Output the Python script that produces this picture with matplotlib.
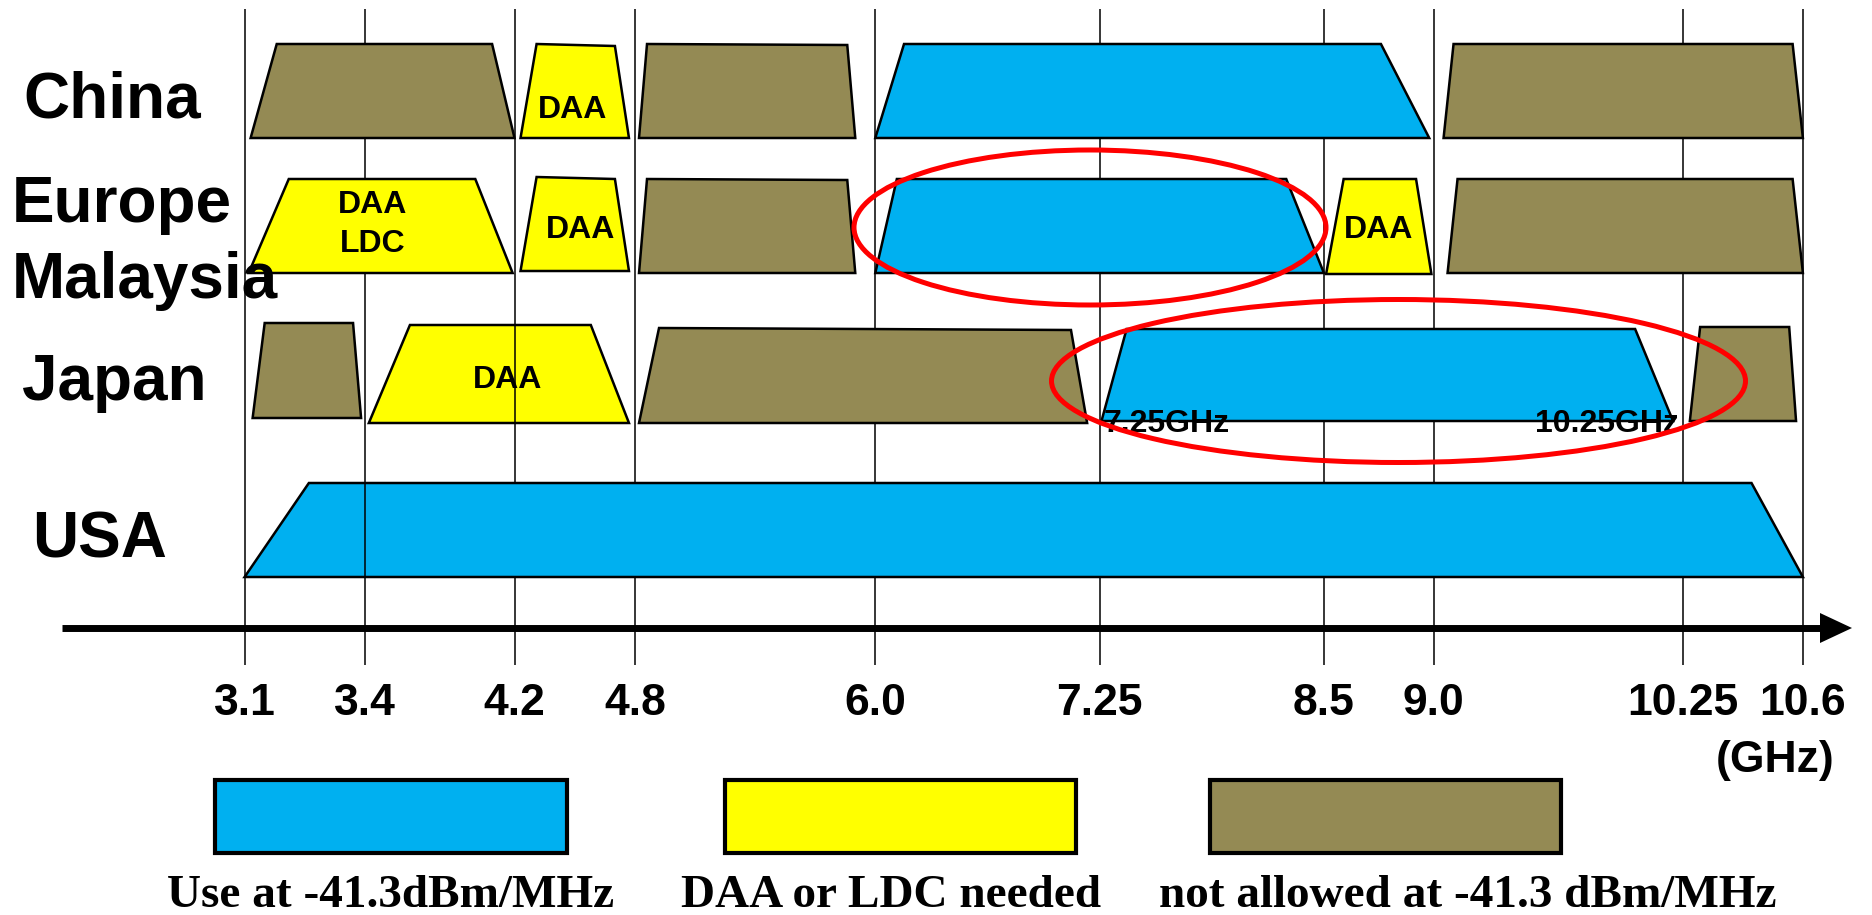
#!/usr/bin/env python3
"""UWB spectrum regulation per region (China / Europe-Malaysia / Japan / USA)."""

import matplotlib
matplotlib.use("Agg")
import matplotlib.pyplot as plt
import matplotlib.transforms as mtransforms
from matplotlib.patches import Polygon, Rectangle, Ellipse
import numpy as np

W, H, DPI = 1872, 915, 100

BLUE = "#00B0F0"
YELLOW = "#FFFF00"
BROWN = "#948A54"
RED = "#FF0000"

# frequency ticks (GHz) and their position on the (non linear) drawing axis
TICKS_GHZ = [3.1, 3.4, 4.2, 4.8, 6.0, 7.25, 8.5, 9.0, 10.25, 10.6]
TICK_LABELS = ["3.1", "3.4", "4.2", "4.8", "6.0", "7.25", "8.5", "9.0", "10.25", "10.6"]
TICK_POS = [244.6, 365.1, 514.5, 635.0, 875.3, 1099.7, 1323.9, 1433.6, 1683.0, 1802.9]

# each band: (bottom-left, top-left, top-right, bottom-right) in GHz, kind,
# and (top-left y, top-right y, bottom y) in px
CHINA = [
    ([3.115, 3.18, 4.08, 4.20], "no", (44, 44, 138)),
    ([4.23, 4.31, 4.70, 4.77], "daa", (44, 46, 138)),
    ([4.82, 4.86, 5.86, 5.90], "no", (44, 45, 138)),
    ([6.0, 6.16, 8.76, 8.98], "use", (44, 44, 138)),
    ([9.05, 9.10, 10.57, 10.6], "no", (44, 44, 138)),
]
EUROPE = [
    ([3.11, 3.21, 3.99, 4.19], "daa", (179, 179, 273)),
    ([4.23, 4.31, 4.70, 4.77], "daa", (177, 179, 271)),
    ([4.82, 4.86, 5.86, 5.90], "no", (179, 180, 273)),
    ([6.0, 6.12, 8.29, 8.5], "use", (179, 179, 273)),
    ([8.51, 8.59, 8.92, 8.99], "daa", (179, 179, 274)),
    ([9.07, 9.12, 10.57, 10.6], "no", (179, 179, 273)),
]
JAPAN = [
    ([3.12, 3.15, 3.37, 3.39], "no", (323, 323, 418)),
    ([3.42, 3.64, 4.58, 4.77], "daa", (325, 325, 423)),
    ([4.82, 4.92, 7.09, 7.18], "no", (328, 330, 423)),
    ([7.26, 7.40, 10.01, 10.2], "use", (329, 329, 421)),
    ([10.27, 10.30, 10.56, 10.58], "no", (327, 327, 421)),
]
USA = [
    ([3.1, 3.26, 10.45, 10.6], "use", (483, 483, 577)),
]

# label, bands, label position (x px, baseline px, align)
ROWS = [
    ("China", CHINA, 112, 117, "center"),
    ("Europe\nMalaysia", EUROPE, 12, 222, "left"),
    ("Japan", JAPAN, 114, 400, "center"),
    ("USA", USA, 100, 558, "center"),
]

# text inside bands: (GHz, baseline px, text, ha)
BAND_TEXT = [
    (4.49, 118, "DAA", "center"),
    (3.44, 213, "DAA", "center"),
    (3.44, 252, "LDC", "center"),
    (4.53, 238, "DAA", "center"),
    (8.75, 238, "DAA", "center"),
    (4.165, 388, "DAA", "center"),
    (7.27, 432, "7.25GHz", "left"),
    (10.23, 432, "10.25GHz", "right"),
]

# vertical line segments that sit on top of the bands: (GHz, y0, y1)
FRONT_LINES = [(3.4, 483, 577), (4.2, 325, 423)]

KIND_COLOR = {"use": BLUE, "daa": YELLOW, "no": BROWN}
LEGEND_KINDS = ["use", "daa", "no"]
LEGEND_TEXT = ["Use at -41.3dBm/MHz", "DAA or LDC needed", "not allowed at -41.3 dBm/MHz"]
LEGEND_BOX_X = [(214.6, 566.5), (725.0, 1075.7), (1210.0, 1560.6)]
LEGEND_TEXT_X = [391, 891, 1468]

# highlighted regions (center x, center y, width, height) in px
ELLIPSES = [(1090, 227.5, 472, 155), (1398.5, 381, 694, 163)]


def _interp_ext(v, xs, ys):
    v = np.asarray(v, dtype=float)
    flat = np.atleast_1d(v).ravel()
    out = np.interp(flat, xs, ys)
    lo = flat < xs[0]
    hi = flat > xs[-1]
    out[lo] = ys[0] + (flat[lo] - xs[0]) * (ys[1] - ys[0]) / (xs[1] - xs[0])
    out[hi] = ys[-1] + (flat[hi] - xs[-1]) * (ys[-1] - ys[-2]) / (xs[-1] - xs[-2])
    return out.reshape(v.shape)


def fwd(v):
    return _interp_ext(v, TICKS_GHZ, TICK_POS)


def inv(v):
    return _interp_ext(v, TICK_POS, TICKS_GHZ)


def main():
    fig = plt.figure(figsize=(W / DPI, H / DPI), dpi=DPI)
    ax = fig.add_axes([0, 0, 1, 1])
    ax.set_xscale("function", functions=(fwd, inv))
    ax.set_xlim(float(inv(0)), float(inv(W)))
    ax.set_ylim(H, 0)
    ax.axis("off")

    # pixel transform (origin top-left) for the decorations
    px = mtransforms.Affine2D().scale(1, -1).translate(0, H)

    sans = "Liberation Sans"

    # frequency grid lines
    ax.vlines(TICKS_GHZ, 9, 665, colors="black", linewidth=1.1, zorder=1)
    for f, y0, y1 in FRONT_LINES:
        ax.vlines(f, y0, y1, colors="black", linewidth=1.1, zorder=3)

    for label, bands, lx, ly, lha in ROWS:
        for xs, kind, (ytl, ytr, ybot) in bands:
            pts = [(xs[0], ybot), (xs[1], ytl), (xs[2], ytr), (xs[3], ybot)]
            ax.add_patch(Polygon(pts, closed=True, facecolor=KIND_COLOR[kind],
                                 edgecolor="black", linewidth=1.8, zorder=2))
        for k, line in enumerate(label.split("\n")):
            ax.text(lx, ly + k * 76, line, transform=px, ha=lha, va="baseline",
                    fontsize=46, fontweight="bold", family=sans, zorder=4)

    for f, y, txt, ha in BAND_TEXT:
        ax.text(f, y, txt, ha=ha, va="baseline", fontsize=23, fontweight="bold",
                family=sans, zorder=4)

    # frequency axis arrow
    ax.plot([62, 1824], [628, 628], color="black", linewidth=5, transform=px,
            solid_capstyle="butt", zorder=3)
    ax.add_patch(Polygon([(1820, 613), (1852, 628), (1820, 643)], closed=True,
                         facecolor="black", edgecolor="none", transform=px, zorder=3))

    for f, lab in zip(TICKS_GHZ, TICK_LABELS):
        ax.text(f, 715, lab, ha="center", va="baseline", fontsize=32,
                fontweight="bold", family=sans)
    ax.text(1775, 772, "(GHz)", transform=px, ha="center", va="baseline",
            fontsize=32, fontweight="bold", family=sans)

    # highlight ellipses
    for cx, cy, ew, eh in ELLIPSES:
        ax.add_patch(Ellipse((cx, cy), ew, eh, transform=px, facecolor="none",
                             edgecolor=RED, linewidth=3.6, zorder=5))

    # legend
    for kind, (x0, x1), txt, tx in zip(LEGEND_KINDS, LEGEND_BOX_X, LEGEND_TEXT, LEGEND_TEXT_X):
        ax.add_patch(Rectangle((x0, 780), x1 - x0, 73, transform=px,
                               facecolor=KIND_COLOR[kind], edgecolor="black",
                               linewidth=3, zorder=3))
        ax.text(tx, 907, txt, transform=px, ha="center", va="baseline",
                fontsize=34, fontweight="bold", family="Liberation Serif")

    fig.savefig("out.png", dpi=DPI)
    plt.close(fig)


if __name__ == "__main__":
    main()
